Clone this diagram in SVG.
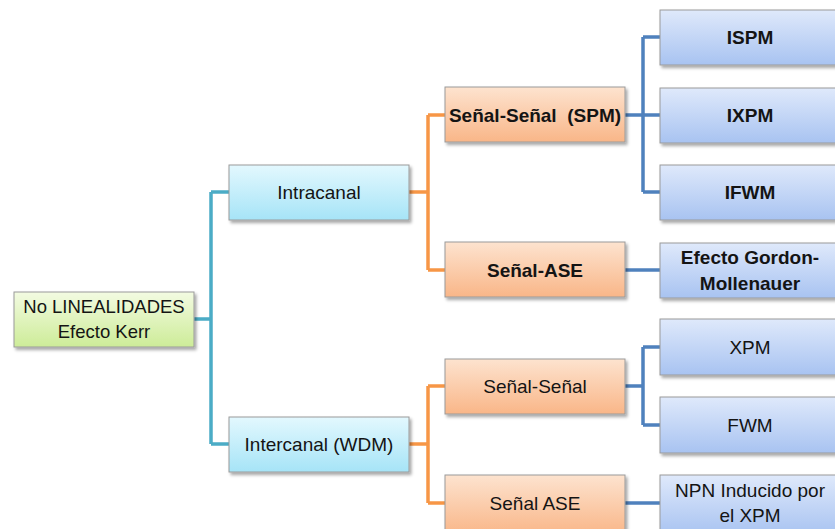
<svg xmlns="http://www.w3.org/2000/svg" width="835" height="529" viewBox="0 0 835 529">
  <defs>
    <linearGradient id="gGreen" x1="0" y1="0" x2="0" y2="1">
      <stop offset="0" stop-color="#f3fbe2"/>
      <stop offset="1" stop-color="#cdec98"/>
    </linearGradient>
    <linearGradient id="gCyan" x1="0" y1="0" x2="0" y2="1">
      <stop offset="0" stop-color="#e3f8fe"/>
      <stop offset="1" stop-color="#a6e4f7"/>
    </linearGradient>
    <linearGradient id="gOrange" x1="0" y1="0" x2="0" y2="1">
      <stop offset="0" stop-color="#fde3cf"/>
      <stop offset="1" stop-color="#f9b688"/>
    </linearGradient>
    <linearGradient id="gBlue" x1="0" y1="0" x2="0" y2="1">
      <stop offset="0" stop-color="#dfe9fb"/>
      <stop offset="1" stop-color="#a8c3f1"/>
    </linearGradient>
    <filter id="shadow" x="-10%" y="-20%" width="130%" height="150%">
      <feDropShadow dx="2" dy="2.5" stdDeviation="1.5" flood-color="#000" flood-opacity="0.35"/>
    </filter>
  </defs>
  <style>
    .box { stroke: #9a9a9a; stroke-width: 1; filter: url(#shadow); }
    .green { fill: url(#gGreen); }
    .cyan { fill: url(#gCyan); }
    .orange { fill: url(#gOrange); }
    .blue { fill: url(#gBlue); }
    .t { font-family: "Liberation Sans", Arial, sans-serif; font-size: 19px; fill: #141414; text-anchor: middle; dominant-baseline: central; }
    .b { font-weight: bold; }
    .c { fill: none; stroke-width: 3.5; stroke-linejoin: miter; }
    .teal { stroke: #4bacc6; }
    .org { stroke: #f79646; }
    .blu { stroke: #4f81bd; }
  </style>

  <!-- connectors -->
  <g id="connectors">
    <path class="c teal" d="M194,319 H211 M211,192 V444 M211,192 H229 M211,444 H229"/>
    <path class="c org" d="M409,192 H428 M428,115 V270 M428,115 H445 M428,270 H445"/>
    <path class="c org" d="M409,444 H428 M428,386 V503 M428,386 H445 M428,503 H445"/>
    <path class="c blu" d="M625,115 H643 M643,37 V192 M643,37 H660 M643,115 H660 M643,192 H660"/>
    <path class="c blu" d="M625,270 H660"/>
    <path class="c blu" d="M625,386 H643 M643,347 V425 M643,347 H660 M643,425 H660"/>
    <path class="c blu" d="M625,503 H660"/>
  </g>

  <!-- level 0 -->
  <g id="root">
    <rect class="box green" x="14" y="292" width="180" height="55"/>
    <text class="t" x="104" y="306" style="font-size:18.5px">No LINEALIDADES</text>
    <text class="t" x="104" y="331" style="font-size:18.5px">Efecto Kerr</text>
  </g>

  <!-- level 1 -->
  <g id="intracanal">
    <rect class="box cyan" x="229" y="165" width="180" height="55"/>
    <text class="t" x="319" y="192">Intracanal</text>
  </g>
  <g id="intercanal">
    <rect class="box cyan" x="229" y="417" width="180" height="55"/>
    <text class="t" x="319" y="444">Intercanal (WDM)</text>
  </g>

  <!-- level 2 -->
  <g id="senal-senal-spm">
    <rect class="box orange" x="445" y="87" width="180" height="55"/>
    <text class="t b" x="535" y="115" xml:space="preserve">Señal-Señal  (SPM)</text>
  </g>
  <g id="senal-ase-intra">
    <rect class="box orange" x="445" y="242" width="180" height="55"/>
    <text class="t b" x="535" y="270">Señal-ASE</text>
  </g>
  <g id="senal-senal">
    <rect class="box orange" x="445" y="359" width="180" height="55"/>
    <text class="t" x="535" y="386">Señal-Señal</text>
  </g>
  <g id="senal-ase-inter">
    <rect class="box orange" x="445" y="475" width="180" height="60"/>
    <text class="t" x="535" y="503">Señal ASE</text>
  </g>

  <!-- level 3 -->
  <g id="ispm">
    <rect class="box blue" x="660" y="10" width="185" height="55"/>
    <text class="t b" x="750" y="37">ISPM</text>
  </g>
  <g id="ixpm">
    <rect class="box blue" x="660" y="88" width="185" height="55"/>
    <text class="t b" x="750" y="115">IXPM</text>
  </g>
  <g id="ifwm">
    <rect class="box blue" x="660" y="165" width="185" height="55"/>
    <text class="t b" x="750" y="192">IFWM</text>
  </g>
  <g id="gordon-mollenauer">
    <rect class="box blue" x="660" y="243" width="185" height="55"/>
    <text class="t b" x="750" y="257">Efecto Gordon-</text>
    <text class="t b" x="750" y="283">Mollenauer</text>
  </g>
  <g id="xpm">
    <rect class="box blue" x="660" y="319" width="185" height="56"/>
    <text class="t" x="750" y="347">XPM</text>
  </g>
  <g id="fwm">
    <rect class="box blue" x="660" y="397" width="185" height="56"/>
    <text class="t" x="750" y="425">FWM</text>
  </g>
  <g id="npn-xpm">
    <rect class="box blue" x="660" y="475" width="185" height="60"/>
    <text class="t" x="750" y="490">NPN Inducido por</text>
    <text class="t" x="750" y="515">el XPM</text>
  </g>
</svg>
